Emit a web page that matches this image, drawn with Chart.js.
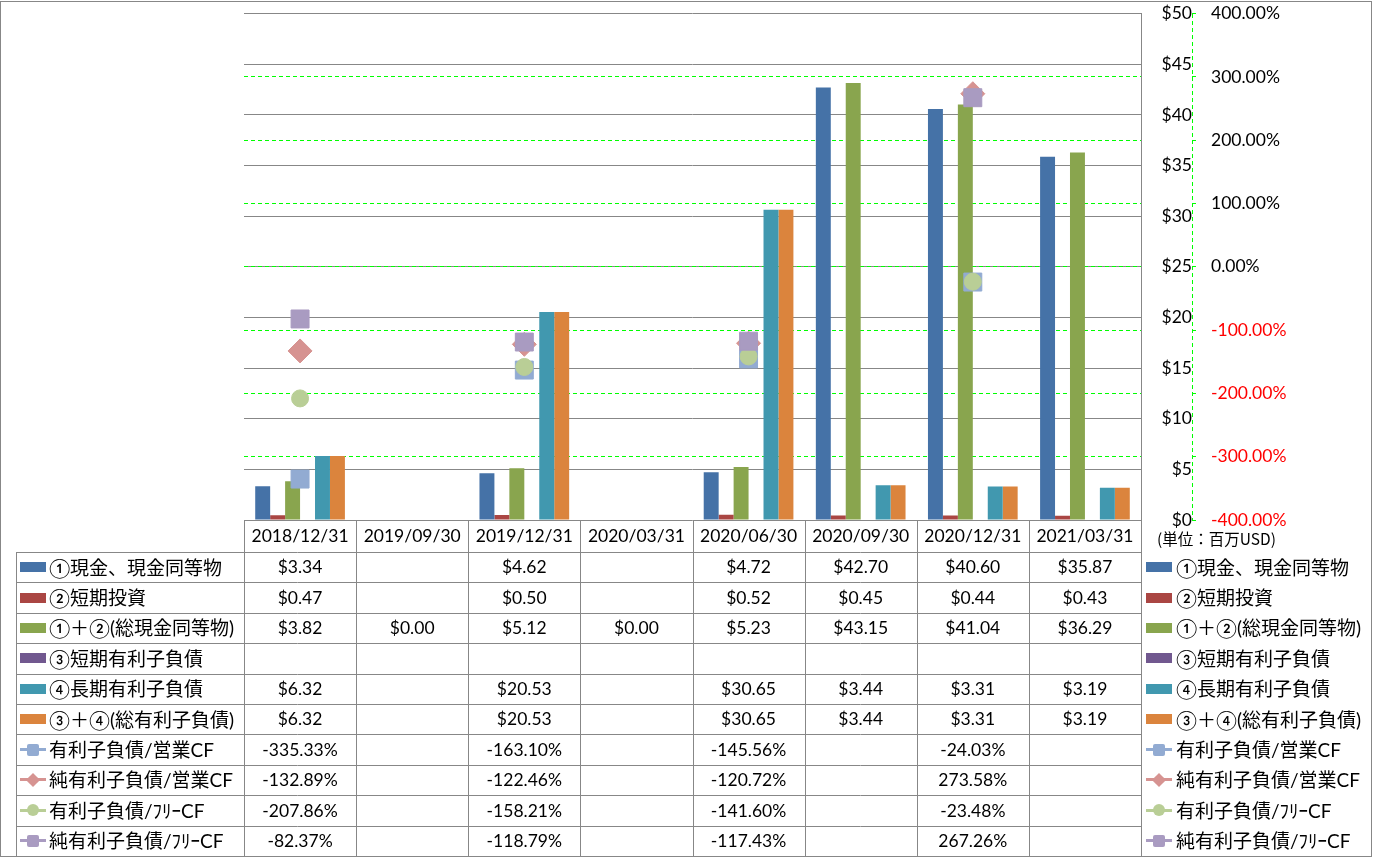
<!DOCTYPE html>
<html><head><meta charset="utf-8">
<script src="https://cdn.jsdelivr.net/npm/chart.js@4"></script>
<style>
html,body{margin:0;padding:0;background:#fff;}
#wrap{position:relative;width:1373px;height:858px;overflow:hidden;background:#fff;}
canvas{position:absolute;left:0;top:0;}
.cell{position:absolute;display:flex;align-items:center;justify-content:center;font-family:Lato,"Noto Sans CJK JP",sans-serif;font-size:17.5px;color:#000;white-space:nowrap;line-height:1;}
.leg{position:absolute;display:flex;align-items:center;font-family:Lato,"Noto Sans CJK JP",sans-serif;font-size:19px;color:#000;white-space:nowrap;line-height:1;}
.unit{position:absolute;font-family:"Noto Sans CJK JP",sans-serif;font-size:15.5px;color:#000;white-space:nowrap;line-height:1;}
</style></head>
<body><div id="wrap"><canvas id="c" width="1373" height="858"></canvas><div id="ov"></div></div>
<script>
const categories = ['2018/12/31','2019/09/30','2019/12/31','2020/03/31','2020/06/30','2020/09/30','2020/12/31','2021/03/31'];
const cashEq      = [3.34, null, 4.62, null, 4.72, 42.70, 40.60, 35.87];
const shortInv    = [0.47, null, 0.50, null, 0.52, 0.45, 0.44, 0.43];
const totalCash   = [3.82, 0.00, 5.12, 0.00, 5.23, 43.15, 41.04, 36.29];
const shortDebt   = [null, null, null, null, null, null, null, null];
const longDebt    = [6.32, null, 20.53, null, 30.65, 3.44, 3.31, 3.19];
const totalDebt   = [6.32, null, 20.53, null, 30.65, 3.44, 3.31, 3.19];
const debtOpCF    = [-335.33, null, -163.10, null, -145.56, null, -24.03, null];
const netDebtOpCF = [-132.89, null, -122.46, null, -120.72, null, 273.58, null];
const debtFCF     = [-207.86, null, -158.21, null, -141.60, null, -23.48, null];
const netDebtFCF  = [-82.37, null, -118.79, null, -117.43, null, 267.26, null];
const seriesNames = ['①現金、現金同等物','②短期投資','①＋②(総現金同等物)','③短期有利子負債','④長期有利子負債','③＋④(総有利子負債)','有利子負債/営業CF','純有利子負債/営業CF','有利子負債/ﾌﾘｰCF','純有利子負債/ﾌﾘｰCF'];
const usdTicks = {min: 0, max: 50, step: 5};
const pctTicks = {min: -400, max: 400, step: 100};
const unitLabel = '(単位：百万USD)';

const barColors = ['#4572A7','#AA4643','#89A54E','#71588F','#4198AF','#DB843D'];
const markerColors = ['#92ABD2','#D69391','#B9CE96','#A99BC1'];
const markerStyles = ['rect','rectRot','circle','rect'];
const markerRadius = [12.7, 12, 8.5, 12.7];
const barData = [cashEq, shortInv, totalCash, shortDebt, longDebt, totalDebt];
const lineData = [debtOpCF, netDebtOpCF, debtFCF, netDebtFCF];

const GRAY = '#878787';
const GREEN = '#00FF00';
const HEADER_BOTTOM = 552;
const ROW_H = 30.4;
const NROWS = 10;

const datasets = [];
barData.forEach((d, i) => datasets.push({
  type: 'bar', label: seriesNames[i], data: d, backgroundColor: barColors[i],
  borderWidth: 0, yAxisID: 'y', order: 10, barPercentage: 1, categoryPercentage: 0.8
}));
lineData.forEach((d, i) => datasets.push({
  type: 'line', label: seriesNames[6 + i], data: d, yAxisID: 'y1', showLine: false,
  pointStyle: markerStyles[i], pointRadius: markerRadius[i], pointHoverRadius: markerRadius[i],
  backgroundColor: markerColors[i], borderColor: markerColors[i], pointBorderWidth: 1,
  order: 4 - i
}));

const tablePlugin = {
  id: 'tableLines',
  afterDraw(chart) {
    const ctx = chart.ctx;
    const ca = chart.chartArea;
    const n = categories.length;
    const band = (ca.right - ca.left) / n;
    ctx.save();
    // dashed secondary axis line
    const y1 = chart.scales.y1;
    ctx.strokeStyle = GREEN;
    ctx.lineWidth = 1;
    ctx.setLineDash([4, 3]);
    ctx.beginPath();
    const ax = Math.round(y1.left) + 0.5;
    ctx.moveTo(ax, Math.round(ca.top));
    ctx.lineTo(ax, Math.round(ca.bottom) + 1);
    ctx.stroke();
    ctx.setLineDash([]);
    ctx.strokeStyle = GRAY;
    ctx.beginPath();
    for (let i = 0; i <= n; i++) {
      const x = Math.round(ca.left + i * band) + 0.5;
      ctx.moveTo(x, Math.round(ca.bottom));
      ctx.lineTo(x, 857);
    }
    ctx.moveTo(16.5, HEADER_BOTTOM);
    ctx.lineTo(16.5, 857);
    for (let r = 0; r < NROWS; r++) {
      const y = Math.round(HEADER_BOTTOM + r * ROW_H) + 0.5;
      ctx.moveTo(16, y);
      ctx.lineTo(Math.round(ca.right) + 1, y);
    }
    ctx.stroke();
    ctx.strokeRect(0.5, 1.5, 1371, 855);
    ctx.restore();
  }
};

const chart = new Chart(document.getElementById('c'), {
  data: { labels: categories, datasets },
  options: {
    responsive: false, animation: false,
    layout: { padding: { left: 244, top: 13, right: 0, bottom: 338 } },
    plugins: { legend: { display: false }, tooltip: { enabled: false } },
    scales: {
      x: { type: 'category', display: false, offset: true },
      y: {
        position: 'right', min: usdTicks.min, max: usdTicks.max,
        afterFit: s => { s.width = 51; s.paddingTop = 0; s.paddingBottom = 0; },
        ticks: { stepSize: usdTicks.step, callback: v => '$' + v, color: '#000',
          font: { family: 'Lato', size: 17.5 }, crossAlign: 'far', padding: 17 },
        grid: { color: GRAY, lineWidth: 1, drawTicks: false },
        border: { display: true, color: GRAY, width: 1 }
      },
      y1: {
        position: 'right', min: pctTicks.min, max: pctTicks.max,
        afterFit: s => { s.width = 181; s.paddingTop = 0; s.paddingBottom = 0; },
        ticks: { stepSize: pctTicks.step, callback: v => Number(v).toFixed(2) + '%',
          color: c => (c.tick && c.tick.value < 0) ? '#FF0000' : '#000',
          font: { family: 'Lato', size: 17.5 }, crossAlign: 'near', padding: 15 },
        grid: {
          color: c => (c.tick && (c.tick.value === pctTicks.max || c.tick.value === pctTicks.min)) ? 'rgba(0,0,0,0)' : GREEN,
          tickColor: GREEN, tickLength: 4, drawTicks: true, lineWidth: 1, tickBorderDash: []
        },
        border: { display: false, dash: [4, 3] }
      }
    }
  },
  plugins: [tablePlugin]
});

// ---- HTML overlay: data table text and legend ----
const ov = document.getElementById('ov');
function add(cls, style, text) {
  const d = document.createElement('div');
  d.className = cls;
  Object.assign(d.style, style);
  if (text != null) d.textContent = text;
  ov.appendChild(d);
  return d;
}
function icon(i) {
  const s = document.createElement('span');
  s.style.position = 'relative';
  s.style.display = 'inline-block';
  s.style.width = '26px';
  s.style.height = '16px';
  s.style.flex = '0 0 26px';
  if (i < 6) {
    const b = document.createElement('span');
    Object.assign(b.style, { position: 'absolute', left: '0', top: '3px', width: '26px', height: '10px', background: barColors[i] });
    s.appendChild(b);
  } else {
    const k = i - 6, col = markerColors[k];
    const l = document.createElement('span');
    Object.assign(l.style, { position: 'absolute', left: '0', top: '6.5px', width: '26px', height: '3px', background: col });
    s.appendChild(l);
    const m = document.createElement('span');
    const st = { position: 'absolute', background: col };
    if (markerStyles[k] === 'rect') Object.assign(st, { left: '7px', top: '2px', width: '12px', height: '12px', borderRadius: '2px' });
    else if (markerStyles[k] === 'rectRot') Object.assign(st, { left: '8px', top: '3px', width: '10px', height: '10px', transform: 'rotate(45deg)' });
    else Object.assign(st, { left: '7px', top: '2px', width: '12px', height: '12px', borderRadius: '50%' });
    Object.assign(m.style, st);
    s.appendChild(m);
  }
  return s;
}
function fmt(i, v) {
  if (v == null) return '';
  return i < 6 ? '$' + v.toFixed(2) : v.toFixed(2) + '%';
}
const ca = chart.chartArea;
const band = (ca.right - ca.left) / categories.length;
categories.forEach((c, j) => {
  const cx = chart.scales.x.getPixelForValue(j);
  add('cell', { left: (cx - band / 2) + 'px', width: band + 'px', top: ca.bottom + 'px', height: (HEADER_BOTTOM - ca.bottom) + 'px' }, c);
});
const allData = barData.concat(lineData);
seriesNames.forEach((name, i) => {
  const top = HEADER_BOTTOM + i * ROW_H;
  const L = add('leg', { left: '20px', top: top + 'px', height: ROW_H + 'px' });
  L.appendChild(icon(i));
  const lt = document.createElement('span'); lt.textContent = name; lt.style.marginLeft = '3px'; L.appendChild(lt);
  const R = add('leg', { left: '1146px', top: top + 'px', height: ROW_H + 'px' });
  R.appendChild(icon(i));
  const rt = document.createElement('span'); rt.textContent = name; rt.style.marginLeft = '4px'; R.appendChild(rt);
  allData[i].forEach((v, j) => {
    const cx = chart.scales.x.getPixelForValue(j);
    const t = fmt(i, v);
    if (t) add('cell', { left: (cx - band / 2) + 'px', width: band + 'px', top: top + 'px', height: ROW_H + 'px' }, t);
  });
});
add('unit', { left: '1157px', top: '531px' }, unitLabel);
</script>
</body></html>
